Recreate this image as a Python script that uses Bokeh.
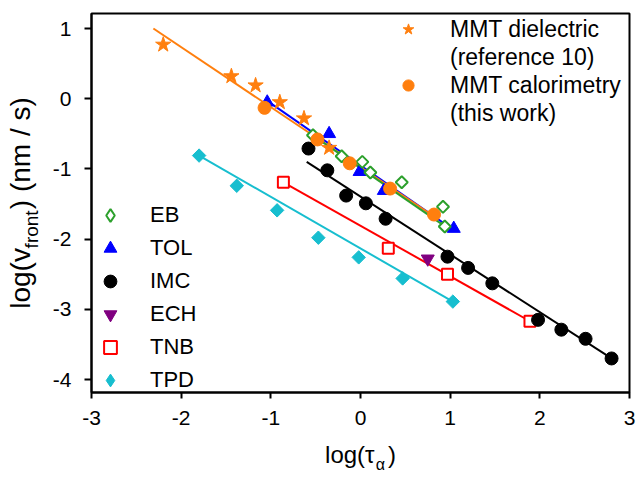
import numpy as np
from bokeh.plotting import figure
from bokeh.models import Range1d, Legend, LegendItem, FixedTicker, LinearAxis
from bokeh.embed import file_html
from bokeh.resources import INLINE

# ---- data: log(front velocity, nm/s) vs log(tau_alpha) ----
mmt_diel_x = [-2.20, -1.44, -1.17, -0.90, -0.63, -0.35]
mmt_diel_y = [0.77, 0.32, 0.19, -0.05, -0.28, -0.70]

mmt_cal_x = [-1.07, -0.48, -0.12, 0.33, 0.82]
mmt_cal_y = [-0.13, -0.58, -0.92, -1.28, -1.65]

eb_x = [-0.53, -0.21, 0.02, 0.11, 0.46, 0.92, 0.94]
eb_y = [-0.52, -0.82, -0.90, -1.05, -1.19, -1.54, -1.82]

tol_x = [-1.04, -0.35, -0.01, 0.26, 1.04]
tol_y = [-0.05, -0.50, -1.04, -1.31, -1.85]

imc_x = [-0.58, -0.37, -0.16, 0.06, 0.28, 0.97, 1.20, 1.47, 1.98, 2.24, 2.51, 2.80]
imc_y = [-0.71, -1.02, -1.38, -1.49, -1.71, -2.25, -2.41, -2.63, -3.15, -3.29, -3.42, -3.70]

ech_x = [0.75]
ech_y = [-2.28]

tnb_x = [-0.86, 0.31, 0.97, 1.89]
tnb_y = [-1.19, -2.13, -2.50, -3.17]

tpd_x = [-1.80, -1.38, -0.93, -0.47, -0.02, 0.47, 1.03]
tpd_y = [-0.81, -1.24, -1.59, -1.98, -2.26, -2.56, -2.89]

# linear fit lines (end points)
mmt_fit_x = [-2.31, 0.86]
mmt_fit_y = [1.00, -1.71]
eb_fit_x = [-0.58, 0.98]
eb_fit_y = [-0.48, -1.85]
tol_fit_x = [-1.04, 1.04]
tol_fit_y = [-0.03, -1.87]
imc_fit_x = [-0.60, 2.80]
imc_fit_y = [-0.90, -3.70]
tnb_fit_x = [-0.86, 1.89]
tnb_fit_y = [-1.19, -3.17]
tpd_fit_x = [-1.80, 1.03]
tpd_fit_y = [-0.81, -2.89]

x_ticks = [-3, -2, -1, 0, 1, 2, 3]
y_ticks = [-4, -3, -2, -1, 0, 1]

ORANGE = "#FF7F0E"
GREEN = "#2CA02C"
BLUE = "#0000FF"
BLACK = "#000000"
PURPLE = "#800080"
RED = "#FF0000"
CYAN = "#17BECF"
FONT = "Liberation Sans"
NBSP = "\u00a0"

p = figure(width=637, height=478, x_range=Range1d(-3, 3), y_range=Range1d(-4.185, 1.214),
           output_backend="svg", toolbar_location=None,
           min_border_left=91, min_border_right=8, min_border_top=13, min_border_bottom=86)

p.grid.visible = False
p.outline_line_color = "black"
p.outline_line_width = 2
p.background_fill_color = "white"
p.border_fill_color = "white"

p.xaxis.ticker = FixedTicker(ticks=x_ticks)
p.yaxis.ticker = FixedTicker(ticks=y_ticks)
p.xaxis.major_label_overrides = {t: str(t) for t in x_ticks}
p.yaxis.major_label_overrides = {t: str(t) for t in y_ticks}
p.axis.axis_line_width = 2
p.axis.axis_line_color = "black"
p.axis.major_tick_line_width = 2
p.axis.major_tick_line_color = "black"
p.axis.major_tick_in = 0
p.axis.minor_tick_in = 0
p.axis.minor_tick_out = 0
p.xaxis.major_tick_out = 6
p.yaxis.major_tick_out = 7
p.axis.major_label_text_font = FONT
p.axis.major_label_text_font_size = "21px"
p.axis.major_label_text_color = "black"
p.xaxis.major_label_standoff = 12
p.yaxis.major_label_standoff = 13

# axis titles: main text on one axis, the subscript on a bare companion axis
p.xaxis.axis_label = "log(\u03c4" + NBSP * 2 + ")"
p.xaxis.axis_label_standoff = 13
p.yaxis.axis_label = "front" + NBSP * 10
p.yaxis.axis_label_standoff = 8

for ax in (p.xaxis[0], p.yaxis[0]):
    ax.axis_label_text_font = FONT
    ax.axis_label_text_font_style = "normal"
    ax.axis_label_text_color = "black"
p.xaxis.axis_label_text_font_size = "24px"
p.yaxis.axis_label_text_font_size = "19px"


def bare_axis(label, size, standoff):
    return LinearAxis(ticker=FixedTicker(ticks=[]), axis_line_color=None,
                      major_tick_out=0, major_tick_in=0, minor_tick_out=0, minor_tick_in=0,
                      major_label_standoff=0, axis_label=label,
                      axis_label_text_font=FONT, axis_label_text_font_size=size,
                      axis_label_text_font_style="normal", axis_label_text_color="black",
                      axis_label_standoff=standoff)


p.add_layout(bare_axis(NBSP * 9 + "\u03b1", "16px", -15), "below")
p.add_layout(bare_axis("log(v" + NBSP * 5 + ") (nm / s)", "28px", -18), "left")

# fit lines
lw = 2
p.line(tpd_fit_x, tpd_fit_y, line_color=CYAN, line_width=lw)
p.line(tnb_fit_x, tnb_fit_y, line_color=RED, line_width=lw)
p.line(imc_fit_x, imc_fit_y, line_color=BLACK, line_width=lw)
p.line(tol_fit_x, tol_fit_y, line_color=BLUE, line_width=lw)
p.line(mmt_fit_x, mmt_fit_y, line_color=ORANGE, line_width=lw)
p.line(eb_fit_x, eb_fit_y, line_color=GREEN, line_width=lw)

# markers (diamonds are squares turned by 45 degrees)
r_tpd = p.scatter(tpd_x, tpd_y, marker="square", angle=np.pi / 4, size=9.5,
                  fill_color=CYAN, line_color=CYAN)
r_tnb = p.scatter(tnb_x, tnb_y, marker="square", size=11, fill_color="white",
                  line_color=RED, line_width=2)
r_ech = p.scatter(ech_x, ech_y, marker="inverted_triangle", size=13,
                  fill_color=PURPLE, line_color=PURPLE)
r_imc = p.scatter(imc_x, imc_y, marker="circle", size=13, fill_color=BLACK, line_color=BLACK)
r_tol = p.scatter(tol_x, tol_y, marker="triangle", size=13, fill_color=BLUE, line_color=BLUE)
r_star = p.scatter(mmt_diel_x, mmt_diel_y, marker="star", size=16,
                   fill_color=ORANGE, line_color=ORANGE)
r_eb = p.scatter(eb_x, eb_y, marker="square", angle=np.pi / 4, size=8.5, fill_color="white",
                 line_color=GREEN, line_width=2)
r_cal = p.scatter(mmt_cal_x, mmt_cal_y, marker="circle", size=13,
                  fill_color=ORANGE, line_color=ORANGE)

# legend keys (the legend draws markers unrotated, so diamonds get their own key glyph)
nowhere = np.array([np.nan])
key_eb = p.scatter(x=nowhere, y=nowhere, marker="diamond", fill_color="white",
                   line_color=GREEN, line_width=2)
key_tpd = p.scatter(x=nowhere, y=nowhere, marker="diamond", fill_color=CYAN, line_color=CYAN)
key_blank = p.scatter(x=nowhere, y=nowhere, marker="circle", fill_alpha=0, line_alpha=0)

legend_style = dict(padding=0, margin=0, border_line_alpha=0, background_fill_alpha=0,
                    label_text_font=FONT, label_text_color="black")

left_legend = Legend(
    items=[LegendItem(label="EB", renderers=[key_eb]),
           LegendItem(label="TOL", renderers=[r_tol]),
           LegendItem(label="IMC", renderers=[r_imc]),
           LegendItem(label="ECH", renderers=[r_ech]),
           LegendItem(label="TNB", renderers=[r_tnb]),
           LegendItem(label="TPD", renderers=[key_tpd])],
    location=(3, -4), glyph_width=32, glyph_height=32, label_standoff=24, spacing=1,
    label_text_font_size="22px", **legend_style)
p.add_layout(left_legend)

mmt_legend = Legend(
    items=[LegendItem(label="MMT dielectric", renderers=[r_star]),
           LegendItem(label="(reference 10)", renderers=[key_blank]),
           LegendItem(label="MMT calorimetry", renderers=[r_cal]),
           LegendItem(label="(this work)", renderers=[key_blank])],
    location=(301, 265), glyph_width=32, glyph_height=28, label_standoff=26, spacing=0,
    label_text_font_size="23px", **legend_style)
p.add_layout(mmt_legend)

open("out.html", "w").write(file_html(p, INLINE))
